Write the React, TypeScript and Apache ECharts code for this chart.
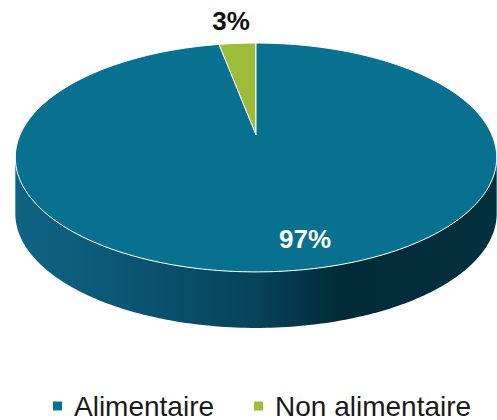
import React, { useEffect, useRef } from "react";
import * as echarts from "echarts";

const categories = ["Alimentaire", "Non alimentaire"];
const values = [97, 3];
const labels = ["97%", "3%"];

const topColors = ["#08718f", "#9dbc3a"];
const labelColors = ["#ffffff", "#111111"];
const labelRadius = [0.8, 1.3];
const labelShiftX = [28, -2];

// projection of the tilted disc (fake perspective)
const CX = 256;
const CY = 135;
const A = 236;
const B = 110;
const K = 0.1965;
const DEPTH = 56;
const FONT = "'Liberation Sans', Arial, sans-serif";

function proj(phi: number, r: number): number[] {
  const u = r * Math.sin(phi);
  const v = r * Math.cos(phi);
  const w = 1 + K * v;
  return [CX + (A * u) / w, CY - (B * v) / w];
}

function arc(a0: number, a1: number, dy: number): number[][] {
  const pts: number[][] = [];
  const n = Math.max(2, Math.ceil(((a1 - a0) * 180) / Math.PI));
  for (let j = 0; j <= n; j++) {
    const p = proj(a0 + ((a1 - a0) * j) / n, 1);
    pts.push([p[0], p[1] + dy]);
  }
  return pts;
}

const sideGradient = {
  type: "linear",
  x: 15,
  y: 0,
  x2: 497,
  y2: 0,
  global: true,
  colorStops: [
    { offset: 0, color: "#0e6484" },
    { offset: 0.2, color: "#0b5877" },
    { offset: 0.5, color: "#07435a" },
    { offset: 0.68, color: "#022a37" },
    { offset: 1, color: "#03303f" },
  ],
};

export default function App() {
  const ref = useRef<HTMLDivElement>(null);
  useEffect(() => {
    if (!ref.current) return;
    const chart = echarts.init(ref.current, undefined, { renderer: "svg" });
    const total = values.reduce((s, v) => s + v, 0);
    const F0 = Math.acos(-K);
    const F1 = 2 * Math.PI - F0;

    const renderItem = (params: any, api: any) => {
      const i = params.seriesIndex;
      const start = values.slice(0, i).reduce((s, v) => s + v, 0);
      const a0 = (start / total) * 2 * Math.PI;
      const a1 = ((start + api.value(0)) / total) * 2 * Math.PI;
      const children: any[] = [];
      const s0 = Math.max(a0, F0);
      const s1 = Math.min(a1, F1);
      if (s1 > s0) {
        const topArc = arc(s0, s1, 0);
        const botArc = arc(s0, s1, DEPTH).reverse();
        children.push({
          type: "polygon",
          shape: { points: topArc.concat(botArc) },
          style: { fill: sideGradient as any, stroke: null },
        });
      }
      const apex = proj(0, 0);
      children.push({
        type: "polygon",
        shape: { points: [apex].concat(arc(a0, a1, 0)) },
        style: { fill: topColors[i], stroke: "#ffffff", lineWidth: 1 },
      });
      const mid = (a0 + a1) / 2;
      const lp = proj(mid, labelRadius[i]);
      children.push({
        type: "text",
        x: lp[0] + labelShiftX[i],
        y: lp[1],
        style: {
          text: labels[i],
          fill: labelColors[i],
          font: `bold 26px ${FONT}`,
          align: "center",
          verticalAlign: "middle",
        },
      });
      return { type: "group", children };
    };

    chart.setOption({
      animation: false,
      legend: {
        data: categories,
        left: 53,
        top: 392,
        padding: 0,
        icon: "path://M0 0H10V10H0Z",
        itemWidth: 23,
        itemHeight: 9,
        itemGap: 40,
        textStyle: { fontSize: 28, color: "#1a1a1a", fontFamily: FONT },
        selectedMode: false,
      },
      series: categories.map((name, i) => ({
        type: "custom",
        name,
        coordinateSystem: "none",
        itemStyle: { color: topColors[i] },
        data: [[values[i]]],
        renderItem,
        z: 2 - i,
      })),
    });
    return () => chart.dispose();
  }, []);
  return (
    <div
      ref={ref}
      style={{ position: "absolute", left: 0, top: 0, width: 497, height: 420 }}
    />
  );
}
